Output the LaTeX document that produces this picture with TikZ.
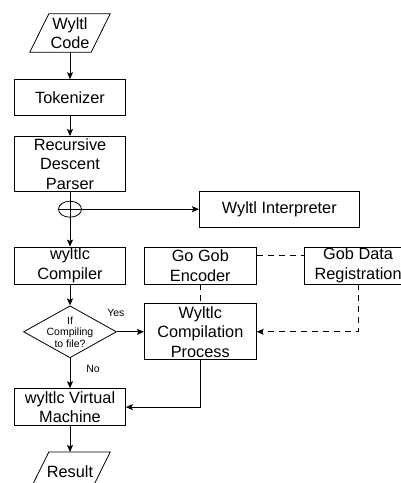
\documentclass[tikz,border=0pt]{standalone}
\usepackage{fontspec}
\setmainfont{Liberation Sans}
\usetikzlibrary{arrows.meta,positioning,shapes.geometric}

\begin{document}
\begin{tikzpicture}[
    every node/.style={font=\fontsize{16.3}{19.5}\selectfont},
    box/.style={draw, line width=0.8pt, inner sep=0pt, align=center, minimum width=111pt, minimum height=37pt},
    io/.style={inner sep=0pt, align=center, minimum width=61pt, minimum height=38pt,
        append after command={\pgfextra{\draw[line width=0.8pt]
            ([xshift=9.5pt]\tikzlastnode.north west) -- ([xshift=9.5pt]\tikzlastnode.north east)
            -- ([xshift=-9.5pt]\tikzlastnode.south east) -- ([xshift=-9.5pt]\tikzlastnode.south west) -- cycle;}}},
    junction/.style={draw, line width=0.8pt, ellipse, inner sep=0pt, minimum width=23pt, minimum height=16pt},
    decision/.style={draw, line width=0.8pt, diamond, aspect=1.79, inner sep=-4pt, align=center, minimum width=93pt, minimum height=52pt, font=\fontsize{10.5}{11.5}\selectfont},
    edgelabel/.style={font=\fontsize{10.5}{12}\selectfont, inner sep=0pt},
    flow/.style={-{Stealth[length=7pt, width=6pt, inset=1.5pt]}, line width=0.8pt},
    link/.style={line width=0.8pt, dash pattern=on 6pt off 5pt},
    feedback/.style={-{Stealth[length=7pt, width=6pt, inset=1.5pt]}, line width=0.8pt, dash pattern=on 6pt off 5pt}
]
\useasboundingbox (0,0) rectangle (401pt,-483pt);
\node[io] (code) at (70pt,-33pt) {Wyltl\\Code};
\node[box, minimum height=36pt, below=27pt of code] (tokenizer) {Tokenizer};
\node[box, minimum height=55pt, below=20pt of tokenizer] (parser) {Recursive\\Descent\\Parser};
\node[junction, below=9pt of parser] (split) {};
\node[box, minimum width=160pt, minimum height=36pt, right=117pt of split] (interpreter) {Wyltl Interpreter};
\node[box, below=29pt of split] (compiler) {wyltlc\\Compiler};
\node[box, minimum width=112pt, right=18pt of compiler] (encoder) {Go Gob\\Encoder};
\node[box, minimum width=108pt, right=47pt of encoder] (registration) {Gob Data\\Registration};
\node[decision, below=21pt of compiler] (check) {If\\Compiling\\to file?};
\node[box, minimum width=112pt, minimum height=56pt, below=19pt of encoder] (compilation) {Wyltlc\\Compilation\\Process};
\node[box, below=30pt of check] (vm) {wyltlc Virtual\\Machine};
\node[io, below=26pt of vm] (result) {Result};
\draw[flow] (code) -- (tokenizer);
\draw[flow] (tokenizer) -- (parser);
\draw[flow] (parser) -- (compiler);
\draw[line width=0.8pt] (split.west) -- (split.east);
\draw[flow] (split.east) -- (interpreter.west);
\draw[flow] (compiler) -- (check);
\draw[flow] (check) -- node[edgelabel, pos=0, xshift=-1pt, yshift=19pt] (yes) {Yes} (compilation);
\draw[flow] (check) -- node[edgelabel, pos=0.37, xshift=23pt] (no) {No} (vm);
\draw[link] ([yshift=10pt]encoder.east) -- ([yshift=10pt]registration.west);
\draw[link] (encoder) -- (compilation);
\draw[feedback] (registration.south) |- (compilation.east);
\draw[flow] (compilation.south) |- (vm.east);
\draw[flow] (vm) -- (result);
\end{tikzpicture}
\end{document}
